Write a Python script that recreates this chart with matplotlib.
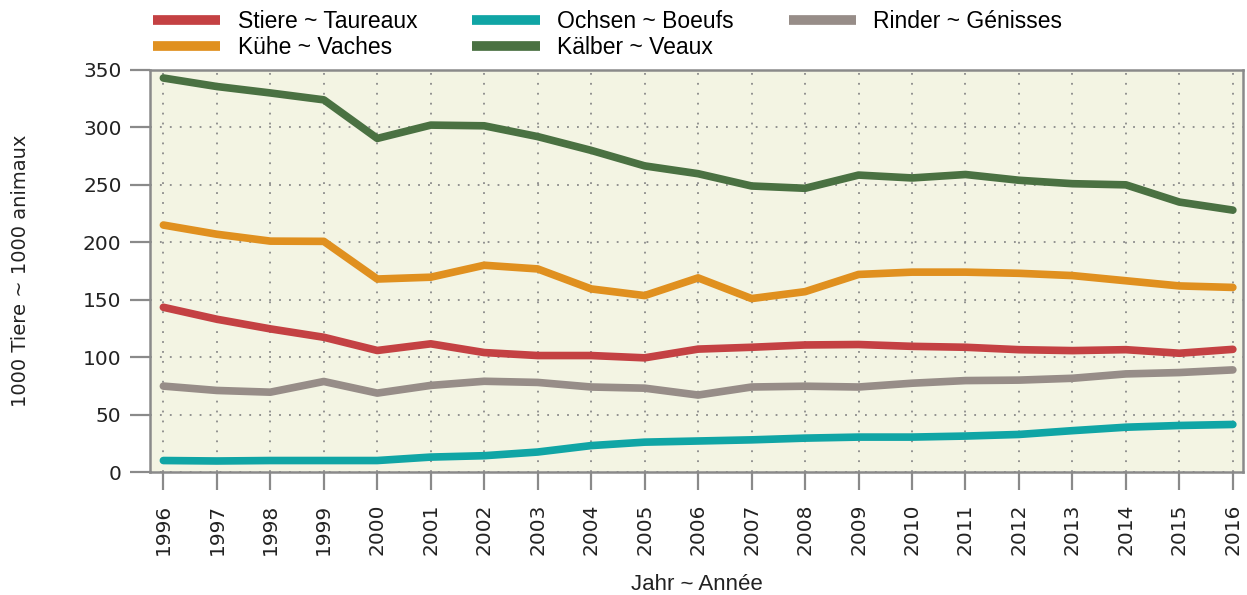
import matplotlib.pyplot as plt

years = list(range(1996, 2017))

stiere = [143.4, 133, 124.6, 117.3, 105.8, 111.6, 104, 101.4, 101.4, 99.4, 107,
          108.6, 110.6, 111, 109.4, 108.6, 106.5, 105.7, 106.5, 103.4, 106.8]
kuehe = [215, 207, 201, 200.8, 168, 169.6, 180, 176.8, 159.4, 153.6, 169,
         151, 157, 172, 174, 174, 173, 171, 166.5, 162, 160.7]
ochsen = [10, 9.6, 10, 10, 10, 13, 14.2, 17.4, 23, 26, 27,
          28, 29.5, 30.4, 30.4, 31.3, 32.7, 36, 39, 40.5, 41.4]
kaelber = [343, 335.6, 330, 324, 290.4, 302, 301.4, 292, 280, 266.5, 259.7,
           249, 247, 258.5, 256, 259, 254, 251, 250, 235, 228]
rinder = [74.8, 71, 69.5, 78.8, 68.7, 75.4, 79, 78, 74, 73, 67,
          74, 74.7, 74, 77.3, 79.6, 80, 81.6, 85.4, 86.6, 88.9]

series = [
    ("Stiere ~ Taureaux", stiere, "#c44143"),
    ("Kühe ~ Vaches", kuehe, "#e0901f"),
    ("Ochsen ~ Boeufs", ochsen, "#10a5a5"),
    ("Kälber ~ Veaux", kaelber, "#4a7142"),
    ("Rinder ~ Génisses", rinder, "#978d88"),
]

narrow = ["Liberation Sans Narrow", "Liberation Sans"]

fig = plt.figure(figsize=(12.47, 5.95), dpi=100)
ax = fig.add_axes([0.1203, 0.2067, 0.8765, 0.6757])
ax.set_facecolor("#f3f4e3")

for label, vals, color in series:
    ax.plot(years, vals, color=color, lw=5.5, solid_capstyle="round",
            solid_joinstyle="round", label=label, zorder=3)

ax.set_xlim(1995.75, 2016.19)
ax.set_ylim(0, 350)
ax.set_xticks(years)
ax.set_xticklabels([str(y) for y in years], rotation=90)
ax.set_yticks(range(0, 351, 50))

ax.grid(True, color="#8a8a8a", linestyle=(0, (1, 4.5)), linewidth=1.3, zorder=1)
for s in ax.spines.values():
    s.set_color("#8a8a8a")
    s.set_linewidth(1.8)

ax.tick_params(axis="y", length=14.5, width=1.6, color="#8a8a8a",
               labelsize=14.5, pad=6, labelcolor="#222222")
ax.tick_params(axis="x", length=13, width=1.6, color="#8a8a8a",
               labelsize=14.5, pad=10, labelcolor="#222222")

ax.set_ylabel("1000 Tiere ~ 1000 animaux", fontsize=14, labelpad=38, color="#222222")
ax.set_xlabel("Jahr ~ Année", fontsize=16, labelpad=13, color="#222222", family=narrow)

leg = fig.legend(loc="upper left", bbox_to_anchor=(0.106, 1.018), ncol=3,
                 frameon=False, handlelength=2.95, handletextpad=0.75,
                 columnspacing=2.4, labelspacing=0.15,
                 prop={"family": narrow, "size": 16.5})
for h in leg.get_lines():
    h.set_linewidth(7)
    h.set_solid_capstyle("butt")

fig.savefig("out.png", dpi=100)
